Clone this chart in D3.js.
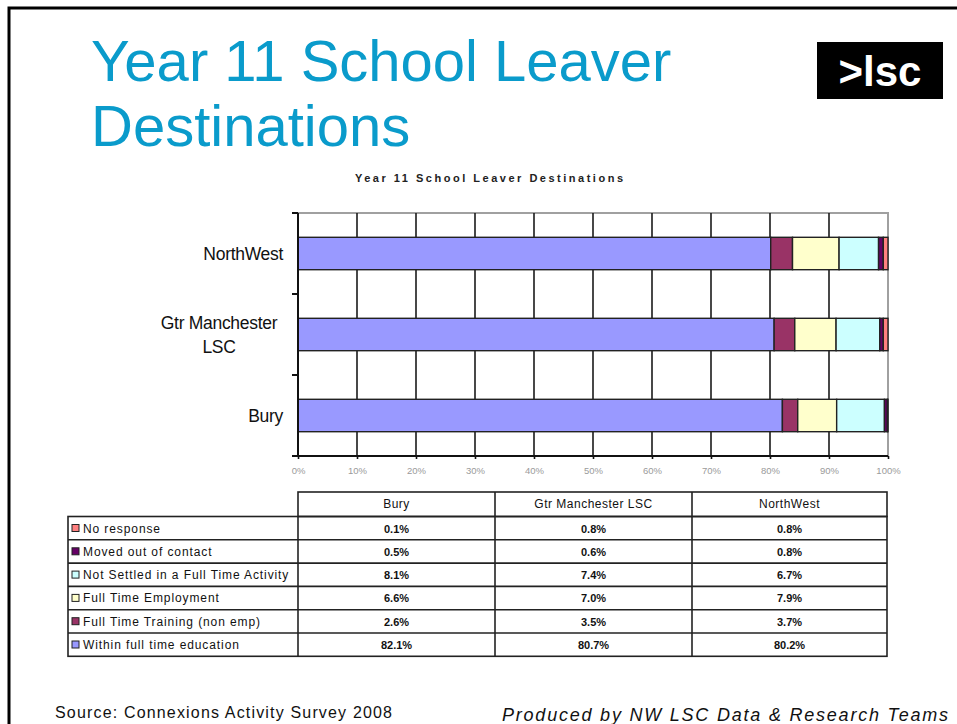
<!DOCTYPE html>
<html>
<head>
<meta charset="utf-8">
<script src="https://cdn.jsdelivr.net/npm/d3@7"></script>
<style>
  body { margin: 0; background: #fff; }
  svg { display: block; font-family: "Liberation Sans", Arial, sans-serif; }
</style>
</head>
<body>
<div class="vis-stacked"></div>
<script>
// categories as shown top to bottom on the chart
const regions = ["NorthWest", "Gtr Manchester LSC", "Bury"];
// table column order
const tableCols = ["Bury", "Gtr Manchester LSC", "NorthWest"];

// series, table order (top to bottom); values per tableCols
const seriesNames = [
  "No response",
  "Moved out of contact",
  "Not Settled in a Full Time Activity",
  "Full Time Employment",
  "Full Time Training (non emp)",
  "Within full time education"
];
const noResponse = [0.1, 0.8, 0.8];
const movedOut = [0.5, 0.6, 0.8];
const notSettled = [8.1, 7.4, 6.7];
const employment = [6.6, 7.0, 7.9];
const training = [2.6, 3.5, 3.7];
const withinEdu = [82.1, 80.7, 80.2];
const seriesValues = [noResponse, movedOut, notSettled, employment, training, withinEdu];
const seriesColors = ["#ff8080", "#660066", "#ccffff", "#ffffcc", "#993366", "#9999ff"];

const xTicks = [0, 0.1, 0.2, 0.3, 0.4, 0.5, 0.6, 0.7, 0.8, 0.9, 1];

const W = 957, H = 724;
const svg = d3.select(".vis-stacked").append("svg")
    .attr("width", W).attr("height", H);

// slide frame
svg.append("path")
    .attr("d", "M9,724 V8 H957")
    .attr("fill", "none").attr("stroke", "#000").attr("stroke-width", 3);

// slide title
const title = svg.append("text")
    .attr("fill", "#0a9bcb")
    .style("font-size", "58px");
title.append("tspan").attr("x", 91).attr("y", 81).text("Year 11 School Leaver");
title.append("tspan").attr("x", 91).attr("y", 146).text("Destinations");

// logo
svg.append("rect")
    .attr("x", 817).attr("y", 42).attr("width", 126).attr("height", 57)
    .attr("fill", "#000");
svg.append("text")
    .attr("x", 880).attr("y", 86)
    .attr("text-anchor", "middle")
    .attr("fill", "#fff")
    .style("font-size", "42px").style("font-weight", "bold")
    .text(">lsc");

// chart title
svg.append("text")
    .attr("x", 489).attr("y", 182)
    .attr("text-anchor", "middle")
    .attr("textLength", 268).attr("lengthAdjust", "spacing")
    .style("font-size", "11px").style("font-weight", "bold")
    .attr("fill", "#222")
    .text("Year 11 School Leaver Destinations");

// scales
const x = d3.scaleLinear().domain([0, 1]).range([298, 888]);
const y = d3.scaleBand().domain(regions).range([213, 456])
    .paddingInner(0.6).paddingOuter(0.3);

// stacked data: left to right is reverse of table order
const stackOrder = seriesNames.slice().reverse();
const rows = regions.map(r => {
    const ci = tableCols.indexOf(r);
    const row = { region: r };
    let total = 0;
    seriesNames.forEach((s, i) => { total += seriesValues[i][ci]; });
    seriesNames.forEach((s, i) => { row[s] = seriesValues[i][ci] / total; });
    return row;
});
const stacked = d3.stack().keys(stackOrder)(rows);
const colorOf = d3.scaleOrdinal().domain(seriesNames).range(seriesColors);

// plot frame (grey top/right)
svg.append("path")
    .attr("d", `M${x(0)},${y.range()[0]} H${x(1)} V${y.range()[1]}`)
    .attr("fill", "none").attr("stroke", "#a0a0a0").attr("stroke-width", 2);

// vertical grid lines
svg.append("g")
    .selectAll("line")
    .data(xTicks.slice(1, -1))
    .enter().append("line")
    .attr("x1", d => x(d)).attr("x2", d => x(d))
    .attr("y1", y.range()[0]).attr("y2", y.range()[1])
    .attr("stroke", "#1a1a1a").attr("stroke-width", 1.6);

// bars
svg.append("g")
    .selectAll("g")
    .data(stacked)
    .enter().append("g")
    .attr("fill", d => colorOf(d.key))
    .selectAll("rect")
    .data(d => d)
    .enter().append("rect")
    .attr("x", d => x(d[0]))
    .attr("width", d => x(d[1]) - x(d[0]))
    .attr("y", d => y(d.data.region))
    .attr("height", y.bandwidth())
    .attr("stroke", "#222").attr("stroke-width", 1.4);

// x axis
const xAxis = svg.append("g")
    .attr("transform", `translate(0,${y.range()[1]})`)
    .call(d3.axisBottom(x).tickValues(xTicks).tickFormat(d3.format(".0%"))
        .tickSizeInner(3).tickSizeOuter(0).tickPadding(8));
xAxis.select(".domain").attr("stroke", "#111").attr("stroke-width", 2)
    .attr("d", `M${x(0) - 6},0H${x(1)}`);
xAxis.selectAll(".tick line").attr("stroke", "#111").attr("stroke-width", 1.6);
xAxis.selectAll(".tick text")
    .attr("fill", "#9a9a9a")
    .style("font-size", "9.5px");

// y axis line and band ticks
const step = y.step();
const yTicks = d3.range(regions.length + 1).map(i => y.range()[0] + i * step);
svg.append("line")
    .attr("x1", x(0)).attr("x2", x(0))
    .attr("y1", y.range()[0]).attr("y2", y.range()[1])
    .attr("stroke", "#111").attr("stroke-width", 2);
svg.append("g").selectAll("line")
    .data(yTicks)
    .enter().append("line")
    .attr("x1", x(0) - 6).attr("x2", x(0))
    .attr("y1", d => d).attr("y2", d => d)
    .attr("stroke", "#111").attr("stroke-width", 2);

// category labels
const catLabels = { "NorthWest": ["NorthWest"], "Gtr Manchester LSC": ["Gtr Manchester", "LSC"], "Bury": ["Bury"] };
regions.forEach(r => {
    const lines = catLabels[r];
    const cy = y(r) + y.bandwidth() / 2;
    const t = svg.append("text")
        .attr("fill", "#111")
        .style("font-size", "17.5px")
        .style("letter-spacing", "-0.3px");
    lines.forEach((l, i) => {
        const isMulti = lines.length > 1;
        t.append("tspan")
            .attr("x", isMulti ? 219 : 283)
            .attr("text-anchor", isMulti ? "middle" : "end")
            .attr("y", cy + 6 + (i - (lines.length - 1) / 2) * 24)
            .text(l);
    });
});

// data table
const colX = [68, 298, 495, 692, 887];
const headTop = 492, rowTop = 516.5, rowH = 23.3;
const tbl = svg.append("g").attr("class", "table");
const lineStyle = sel => sel.attr("stroke", "#222").attr("stroke-width", 1.6);

// header row
tbl.append("rect").attr("x", colX[1]).attr("y", headTop)
    .attr("width", colX[4] - colX[1]).attr("height", rowTop - headTop)
    .attr("fill", "none").call(lineStyle);
tbl.append("rect").attr("x", colX[0]).attr("y", rowTop)
    .attr("width", colX[4] - colX[0]).attr("height", rowH * seriesNames.length)
    .attr("fill", "none").call(lineStyle);
[2, 3].forEach(i => {
    tbl.append("line").attr("x1", colX[i]).attr("x2", colX[i])
        .attr("y1", headTop).attr("y2", rowTop + rowH * seriesNames.length).call(lineStyle);
});
tbl.append("line").attr("x1", colX[1]).attr("x2", colX[1])
    .attr("y1", rowTop).attr("y2", rowTop + rowH * seriesNames.length).call(lineStyle);
d3.range(1, seriesNames.length).forEach(i => {
    tbl.append("line").attr("x1", colX[0]).attr("x2", colX[4])
        .attr("y1", rowTop + i * rowH).attr("y2", rowTop + i * rowH).call(lineStyle);
});

tableCols.forEach((c, j) => {
    tbl.append("text")
        .attr("x", (colX[j + 1] + colX[j + 2]) / 2).attr("y", headTop + 16)
        .attr("text-anchor", "middle")
        .style("font-size", "12px").style("letter-spacing", "0.5px").attr("fill", "#111")
        .text(c);
});

seriesNames.forEach((s, i) => {
    const ry = rowTop + i * rowH;
    tbl.append("rect")
        .attr("x", 72).attr("y", ry + 8).attr("width", 7).attr("height", 7)
        .attr("fill", colorOf(s)).attr("stroke", "#222").attr("stroke-width", 1);
    tbl.append("text")
        .attr("x", 83).attr("y", ry + 16)
        .style("font-size", "12px").style("letter-spacing", "0.9px").attr("fill", "#111")
        .text(s);
    tableCols.forEach((c, j) => {
        tbl.append("text")
            .attr("x", (colX[j + 1] + colX[j + 2]) / 2).attr("y", ry + 16)
            .attr("text-anchor", "middle")
            .style("font-size", "11px").style("font-weight", "bold").attr("fill", "#111")
            .text(seriesValues[i][j].toFixed(1) + "%");
    });
});

// footer
svg.append("text")
    .attr("x", 55).attr("y", 718)
    .attr("textLength", 337).attr("lengthAdjust", "spacing")
    .style("font-size", "16px").attr("fill", "#111")
    .text("Source: Connexions Activity Survey 2008");
svg.append("text")
    .attr("x", 502).attr("y", 721)
    .attr("textLength", 446).attr("lengthAdjust", "spacing")
    .style("font-size", "18px").style("font-style", "italic").attr("fill", "#111")
    .text("Produced by NW LSC Data & Research Teams");
</script>
</body>
</html>
